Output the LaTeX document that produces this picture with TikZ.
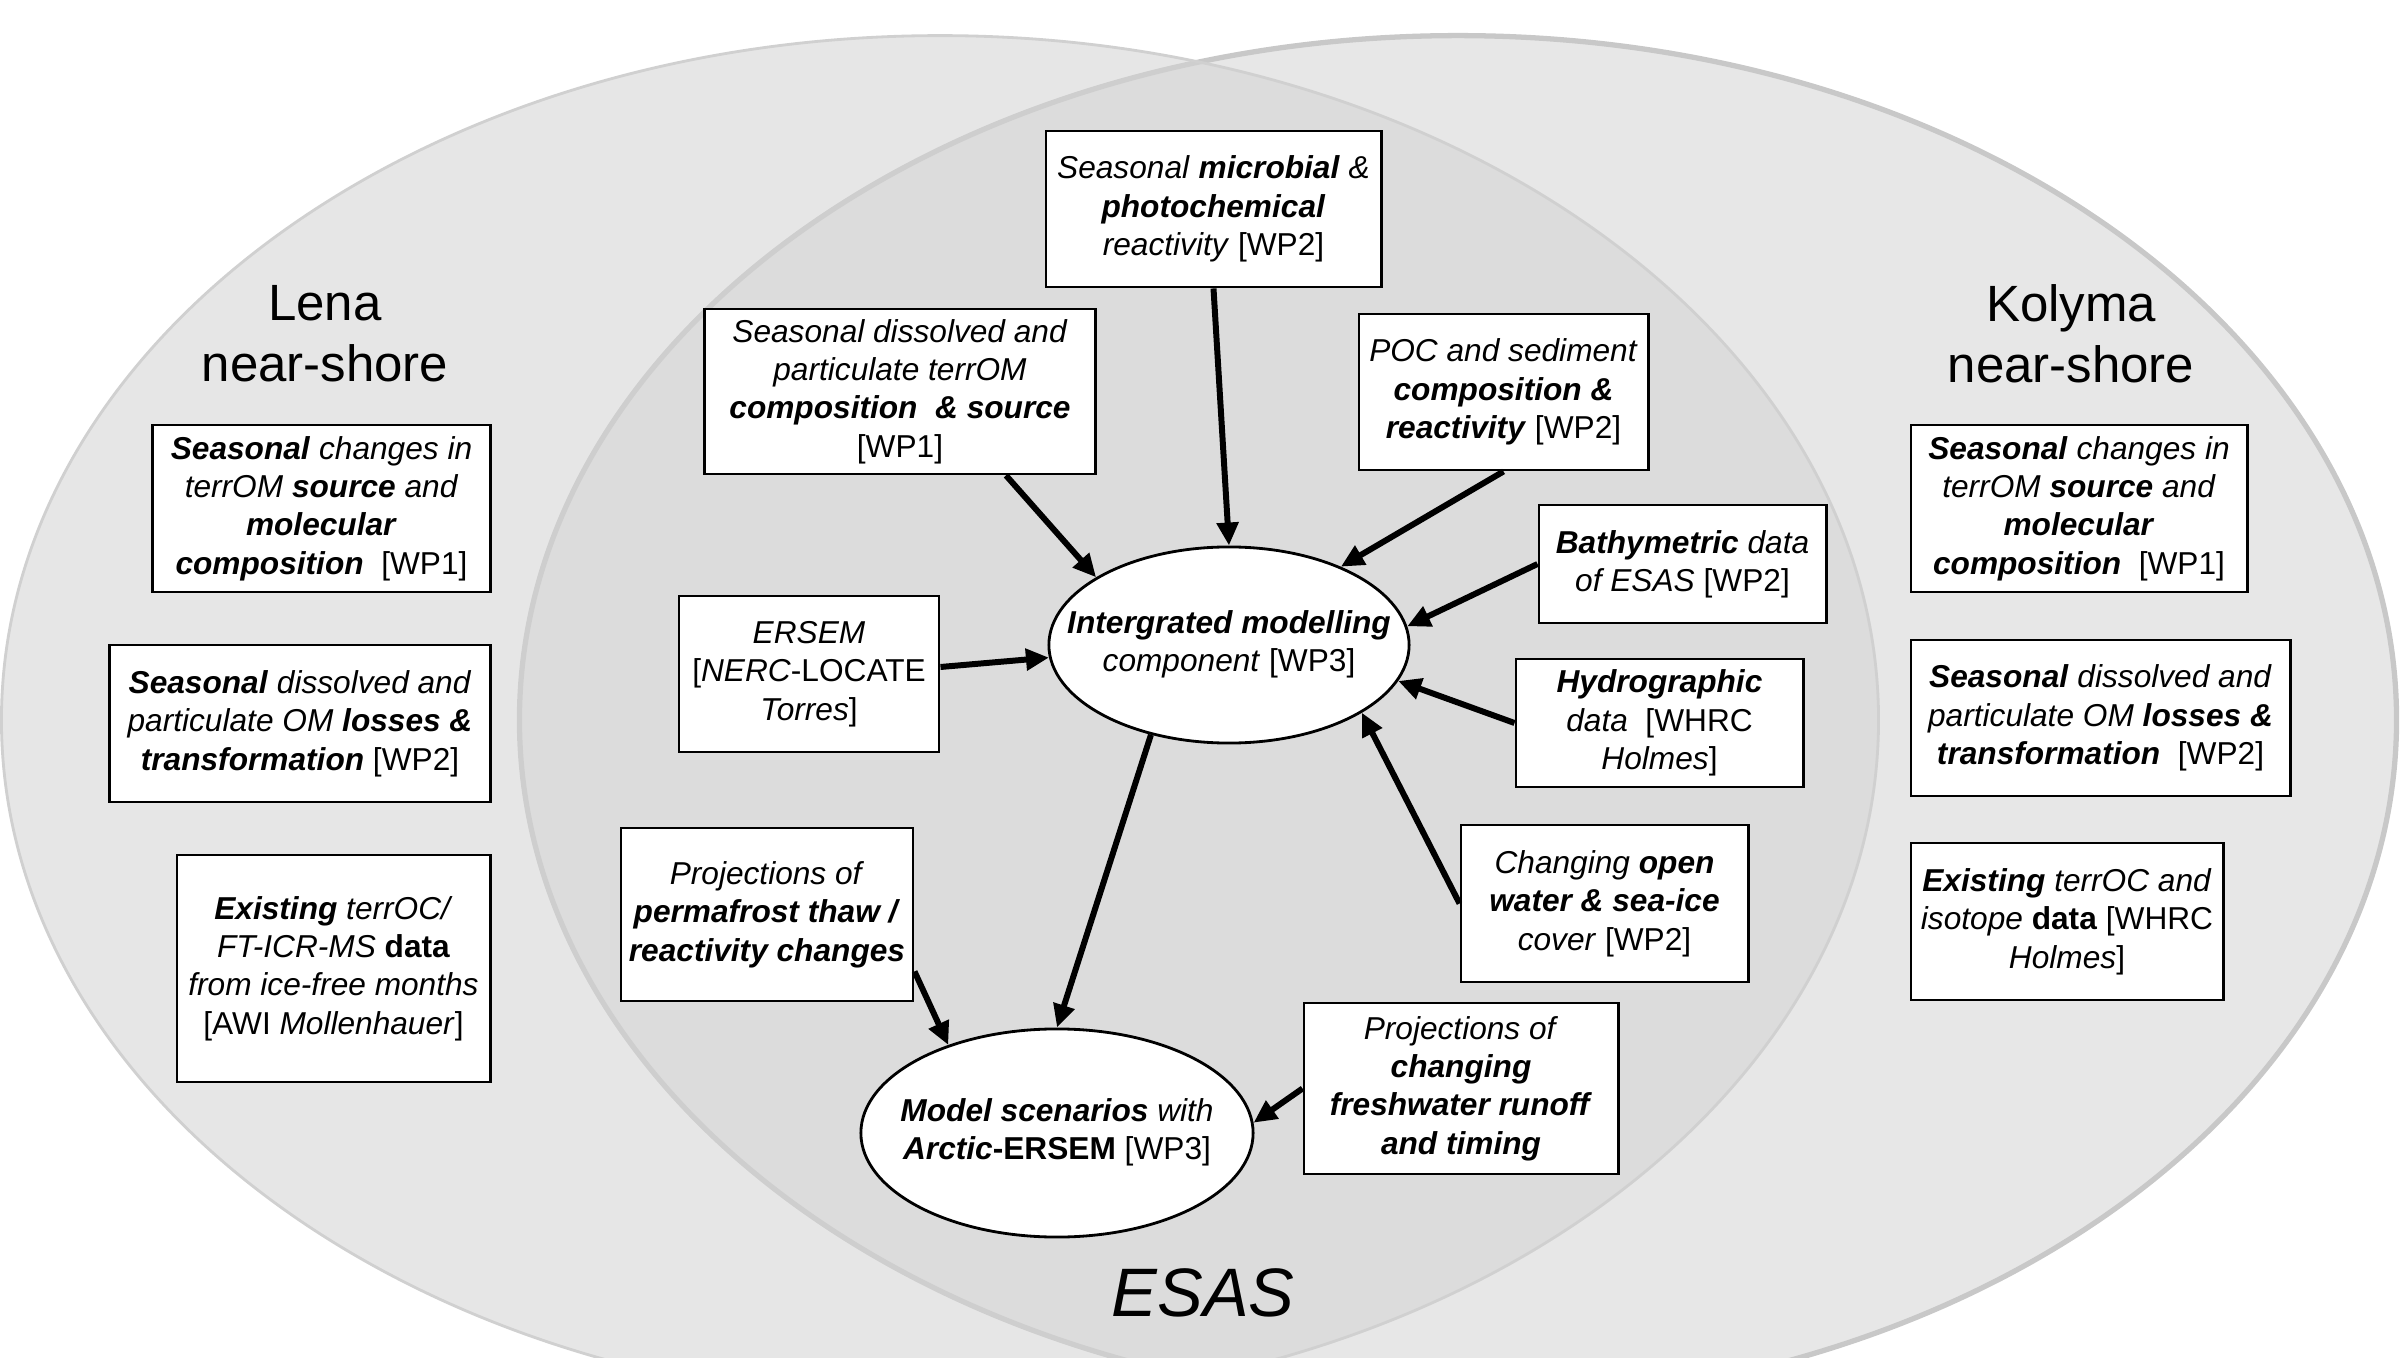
\documentclass[tikz,border=0pt]{standalone}
\usepackage{fontspec}
\setmainfont{Liberation Sans}
\usetikzlibrary{arrows.meta,shapes.geometric,calc}
\definecolor{kolfill}{RGB}{231,231,231}
\definecolor{kolline}{RGB}{200,200,200}
\definecolor{lenafill}{RGB}{212,212,212}
\definecolor{lenaline}{RGB}{208,208,208}
\newcommand{\myi}[1]{\textit{#1}}
\newcommand{\mybi}[1]{\textbf{\textit{#1}}}
\newcommand{\zw}[1]{\makebox[0pt]{\begin{tabular}{@{}c@{}}#1\end{tabular}}}
\begin{document}
\begin{tikzpicture}[x=0.01cm, y=-0.01cm,
  box/.style={draw=black, line width=0.8pt, fill=white, align=center, inner sep=0pt,
              font=\fontsize{9}{10.9}\selectfont},
  oval/.style={draw=black, line width=0.8pt, fill=white, ellipse, inner sep=0pt,
              font=\fontsize{9}{10.9}\selectfont},
  arr/.style={line width=1.7pt, -{Triangle[length=0.23cm,width=0.21cm]}},
  region/.style={font=\fontsize{14.5}{17.3}\selectfont, align=center, inner sep=0pt}
]
\useasboundingbox (0,0) rectangle (2402,1358);
\clip (0,0) rectangle (2402,1358);
\fill[white] (0,0) rectangle (2402,1358);
% background ellipses
\filldraw[fill=kolfill, draw=kolline, line width=1.5pt] (1458,720) circle[x radius=9.38cm, y radius=6.84cm];
\filldraw[fill=lenafill, fill opacity=0.56, draw=lenaline, line width=0.8pt] (940,720) circle[x radius=9.38cm, y radius=6.84cm];

% region titles
\node[region] (lena) at (325,334) {Lena\\near-shore};
\node[region] (kolyma) at (2071,334) {Kolyma\\near-shore};
\node[font=\fontsize{19.5}{23}\selectfont\itshape, anchor=base, inner sep=0pt] (esas) at (1203,1316) {ESAS};

% ESAS boxes
\node[box, minimum width=3.35cm, minimum height=1.56cm] (top) at (1213.5,209)
  {\myi{Seasonal} \mybi{microbial} \myi{\&}\\ \mybi{photochemical}\\ \myi{reactivity} [WP2]};
\node[box, minimum width=3.90cm, minimum height=1.65cm] (terrom) at (900,391.5)
  {\myi{Seasonal dissolved and}\\ \myi{particulate terrOM}\\ \mybi{composition~ \& source}\\ {[WP1]}};
\node[box, minimum width=2.89cm, minimum height=1.56cm] (poc) at (1503.5,392)
  {\myi{POC and sediment}\\ \mybi{composition \&}\\ \mybi{reactivity} [WP2]};
\node[box, minimum width=2.87cm, minimum height=1.18cm] (bathy) at (1682.5,564)
  {\mybi{Bathymetric} \myi{data}\\ \myi{of ESAS} [WP2]};
\node[box, minimum width=2.60cm, minimum height=1.56cm] (ersem) at (809,674)
  {\myi{ERSEM}\\ {[}\myi{NERC}-LOCATE\\ \myi{Torres}]};
\node[box, minimum width=2.87cm, minimum height=1.28cm] (hydro) at (1659.5,723)
  {\mybi{Hydrographic}\\ \myi{data}~ [WHRC\\ \myi{Holmes}]};
\node[box, minimum width=2.87cm, minimum height=1.57cm] (open) at (1604.5,903.5)
  {\myi{Changing} \mybi{open}\\ \mybi{water \& sea-ice}\\ \myi{cover} [WP2]};
\node[box, minimum width=2.92cm, minimum height=1.73cm] (perma) at (767,914.5)
  {\myi{Projections of}\\ \mybi{permafrost thaw /}\\ \mybi{reactivity changes}};
\node[box, minimum width=3.14cm, minimum height=1.71cm] (fresh) at (1461,1088.5)
  {\myi{Projections of}\\ \mybi{changing}\\ \mybi{freshwater runoff}\\ \mybi{and timing}};

% ellipses
\node[oval, minimum width=3.60cm, minimum height=1.96cm] (cen) at (1229,645)
  {\zw{\mybi{Intergrated modelling}\\ \myi{component} [WP3]}};
\node[oval, minimum width=3.92cm, minimum height=2.08cm] (model) at (1057,1133)
  {\zw{\mybi{Model scenarios} \myi{with}\\ \mybi{Arctic}\textbf{-ERSEM} [WP3]}};

% Lena boxes
\node[box, minimum width=3.37cm, minimum height=1.67cm] (lena1) at (321.5,508.5)
  {\mybi{Seasonal} \myi{changes in}\\ \myi{terrOM} \mybi{source} \myi{and}\\ \mybi{molecular}\\ \mybi{composition}~ [WP1]};
\node[box, minimum width=3.80cm, minimum height=1.57cm] (lena2) at (300,723.5)
  {\mybi{Seasonal} \myi{dissolved and}\\ \myi{particulate OM} \mybi{losses \&}\\ \mybi{transformation} [WP2]};
\node[box, minimum width=3.13cm, minimum height=2.27cm] (lena3) at (333.5,968.5)
  {\mybi{Existing} \myi{terrOC/}\\ \myi{FT-ICR-MS} \textbf{data}\\ \myi{from ice-free months}\\ {[AWI} \myi{Mollenhauer}]};

% Kolyma boxes
\node[box, minimum width=3.36cm, minimum height=1.67cm] (kol1) at (2079,508.5)
  {\mybi{Seasonal} \myi{changes in}\\ \myi{terrOM} \mybi{source} \myi{and}\\ \mybi{molecular}\\ \mybi{composition}~ [WP1]};
\node[box, minimum width=3.79cm, minimum height=1.56cm] (kol2) at (2100.5,718)
  {\mybi{Seasonal} \myi{dissolved and}\\ \myi{particulate OM} \mybi{losses \&}\\ \mybi{transformation}~ [WP2]};
\node[box, minimum width=3.12cm, minimum height=1.57cm] (kol3) at (2067,921.5)
  {\mybi{Existing} \myi{terrOC and}\\ \myi{isotope} \textbf{data} [WHRC\\ \myi{Holmes}]};

% arrows
\draw[arr] (top.south) -- (cen.north);
\draw[arr] ($(terrom.south)+(106,0)$) -- (cen.153);
\draw[arr] (poc.south) -- (cen.35);
\draw[arr] (bathy.west) -- (cen.6);
\draw[arr] ($(ersem.east)+(0,-7)$) -- (cen.184);
\draw[arr] (hydro.west) -- (cen.-12);
\draw[arr] (open.west) -- (cen.-27);
\draw[arr] (cen.-131) -- (model.north);
\draw[arr] ($(perma.south east)+(0,-31)$) -- (model.141);
\draw[arr] (fresh.west) -- (model.3);
\end{tikzpicture}
\end{document}
